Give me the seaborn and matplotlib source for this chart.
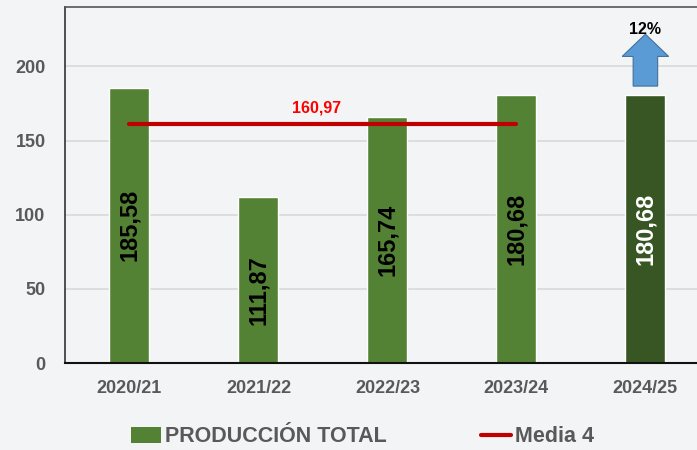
import matplotlib
matplotlib.use("Agg")
import matplotlib.pyplot as plt
import seaborn as sns
import pandas as pd
from matplotlib.patches import Patch, FancyArrow
from matplotlib.lines import Line2D

campaigns = ["2020/21", "2021/22", "2022/23", "2023/24", "2024/25"]
production = [185.58, 111.87, 165.74, 180.68, 180.68]
labels = ["185,58", "111,87", "165,74", "180,68", "180,68"]
mean4 = 160.97
mean4_label = "160,97"
growth_label = "12%"

sns.set_theme(style="whitegrid")
plt.rcParams["font.family"] = ["Liberation Sans", "DejaVu Sans"]
plt.rcParams["font.weight"] = "bold"

bg = "#f3f4f6"
fig = plt.figure(figsize=(6.97, 4.5), dpi=100, facecolor=bg)
ax = fig.add_axes([65/697, 1-363/450, 1-65/697, (363-7)/450])
ax.set_facecolor(bg)

df = pd.DataFrame({"campaign": campaigns, "value": production})
colors = ["#548235"] * 4 + ["#375623"]
sns.barplot(data=df, x="campaign", y="value", hue="campaign", palette=colors,
            legend=False, width=0.31, ax=ax, saturation=1)

ax.set_xlim(-0.5, 4.40)
ax.set_ylim(0, 240)
ax.set_yticks([0, 50, 100, 150, 200])
ax.set_xlabel("")
ax.set_ylabel("")
ax.grid(axis="y", color="#d9d9d9", linewidth=1.2)
ax.grid(axis="x", visible=False)
ax.tick_params(axis="both", length=0, labelsize=13, labelcolor="#595959")
ax.tick_params(axis="y", pad=14)
ax.tick_params(axis="x", pad=12)
for t in ax.get_xticklabels() + ax.get_yticklabels():
    t.set_fontweight("bold")

ax.spines["right"].set_visible(False)
ax.spines["top"].set_color("#555555")
ax.spines["top"].set_linewidth(1.2)
ax.spines["left"].set_color("#333333")
ax.spines["left"].set_linewidth(1.2)
ax.spines["bottom"].set_color("#111111")
ax.spines["bottom"].set_linewidth(1.5)

# mean line across first four campaigns
ax.plot([0, 3], [mean4, mean4], color="#C00000", linewidth=3, solid_capstyle="round", zorder=3)
ax.text(1.45, mean4 + 6, mean4_label, color="#FF0000", fontsize=11.5, fontweight="bold",
        ha="center", va="bottom")

# bar labels
for i, (v, lab) in enumerate(zip(production, labels)):
    col = "white" if i == 4 else "black"
    ax.text(i, v / 2 if i != 1 else v / 2 - 7, lab, rotation=90, ha="center", va="center",
            fontsize=17, fontweight="bold", color=col, zorder=4)

# growth arrow above last bar
last = production[-1]
arr = FancyArrow(4, last + 6, 0, 35, width=0.19, head_width=0.36, head_length=15,
                 length_includes_head=True, facecolor="#5B9BD5", edgecolor="#41719C",
                 linewidth=0.8, zorder=4, clip_on=False)
ax.add_patch(arr)
ax.text(4, last + 44, growth_label, ha="center", va="center", fontsize=11.5,
        fontweight="bold", color="black", zorder=5)

handles = [Patch(facecolor="#548235", edgecolor="none", label="PRODUCCIÓN TOTAL"),
           Line2D([0], [0], color="#C00000", linewidth=3, label="Media 4")]
leg = fig.legend(handles=handles, loc="center", bbox_to_anchor=(0.52, 1-437/450), ncol=2,
                 frameon=False, fontsize=15.5, handlelength=1.4, handleheight=0.75,
                 handletextpad=0.15, columnspacing=4.4)
for t in leg.get_texts():
    t.set_color("#595959")
    t.set_fontweight("bold")

fig.savefig("out.png", dpi=100, facecolor=bg)
